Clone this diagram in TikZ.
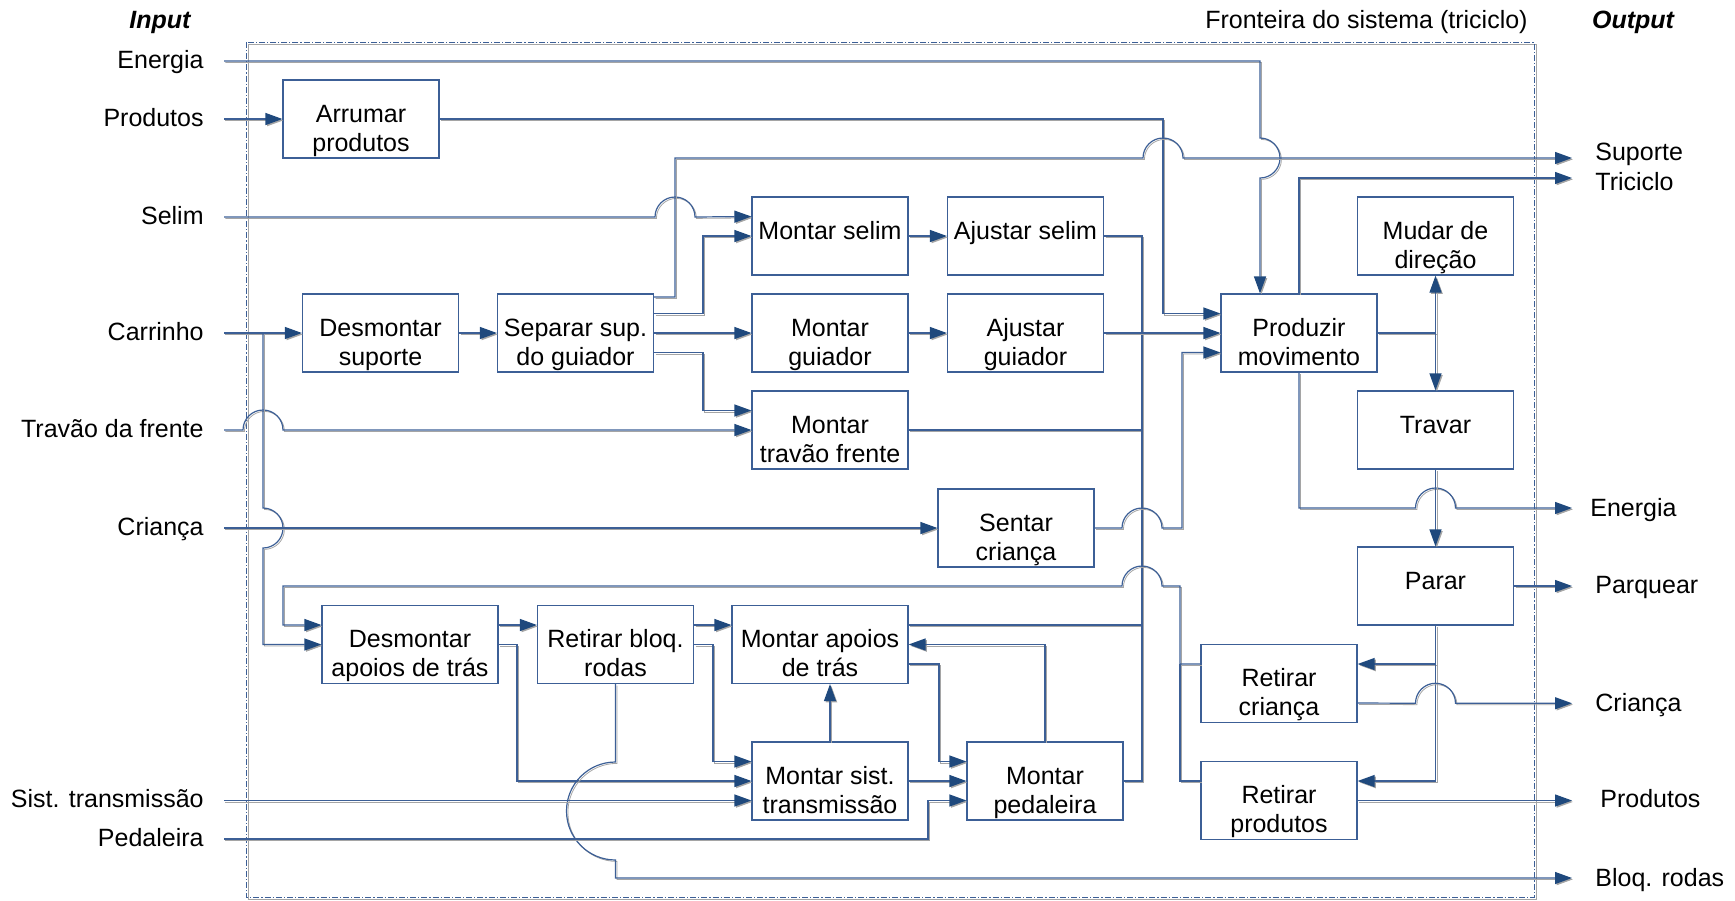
\documentclass[tikz,border=0pt]{standalone}
\usepackage{fontspec}
\setmainfont{Liberation Sans}
\usepackage{xcolor}
\usepackage{tikz}
\usetikzlibrary{arrows.meta}
\definecolor{lineblue}{RGB}{60,95,150}
\definecolor{arrowblue}{RGB}{31,73,125}
\definecolor{shade}{RGB}{165,165,165}

\begin{document}
\begin{tikzpicture}[x=0.5pt,y=-0.5pt,
	font=\fontsize{12.5pt}{14.5pt}\selectfont]

	\tikzstyle{box}=[draw=lineblue,line width=0.6pt,minimum width=78pt,minimum height=39pt,
		inner xsep=0pt,inner ysep=0pt,text height=21pt,text depth=18pt,align=center]
	\tikzstyle{two}=[text height=35.5pt,text depth=3.5pt]
	\tikzstyle{wide}=[minimum width=88pt]
	\tikzstyle{conn}=[draw=lineblue,line width=0.6pt,
		preaction={draw=shade,transform canvas={shift={(0.7pt,-0.7pt)}}}]
	\tikzstyle{arr}=[draw=lineblue,line width=0.6pt,-{Triangle[length=8.5pt,width=6pt,color=arrowblue]},
		preaction={draw=shade,-{Triangle[length=8.5pt,width=6pt]},transform canvas={shift={(0.7pt,-0.7pt)}}}]
	\tikzstyle{inlab}=[anchor=base east,inner sep=0pt]
	\tikzstyle{outlab}=[anchor=base west,inner sep=0pt]
	\tikzstyle{head}=[anchor=base,inner sep=0pt,font=\fontsize{12.5pt}{14.5pt}\selectfont\bfseries\itshape]
	\tikzstyle{bound}=[draw=lineblue,line width=0.5pt,dash pattern=on 3pt off 1pt on 0.6pt off 1pt,
		preaction={draw=shade,transform canvas={shift={(1pt,-1pt)}}}]

	\useasboundingbox (0,0) rectangle (1735,900);

	\draw[bound] (246,42) rectangle (1534,897);

	\node[head] (inhead) at (160,28) {Input};
	\node[head] (outhead) at (1633,28) {Output};
	\node[anchor=base east,inner sep=0pt] (fronteira) at (1528,28) {Fronteira do sistema (triciclo)};

	\node[inlab] (l-energia) at (204,68) {Energia};
	\node[inlab] (l-produtos) at (204,126) {Produtos};
	\node[inlab] (l-selim) at (204,224) {Selim};
	\node[inlab] (l-carrinho) at (204,340) {Carrinho};
	\node[inlab] (l-travao) at (204,437) {Travão da frente};
	\node[inlab] (l-crianca) at (204,535) {Criança};
	\node[inlab] (l-sist) at (204,807) {Sist. transmissão};
	\node[inlab] (l-pedaleira) at (204,846) {Pedaleira};

	\coordinate (i-energia) at (224,61);
	\coordinate (i-produtos) at (224,119);
	\coordinate (i-selim) at (224,217);
	\coordinate (i-carrinho) at (224,333);
	\coordinate (i-travao) at (224,430);
	\coordinate (i-crianca) at (224,528);
	\coordinate (i-sist) at (224,800.5);
	\coordinate (i-pedaleira) at (224,839);

	\node[outlab] (r-suporte) at (1595,160) {Suporte};
	\node[outlab] (r-triciclo) at (1595,190) {Triciclo};
	\node[outlab] (r-energia) at (1590,516) {Energia};
	\node[outlab] (r-parquear) at (1595,593) {Parquear};
	\node[outlab] (r-crianca) at (1595,711) {Criança};
	\node[outlab] (r-produtos) at (1600,807) {Produtos};
	\node[outlab] (r-bloq) at (1595,886) {Bloq. rodas};

	\coordinate (o-suporte) at (1572,158);
	\coordinate (o-triciclo) at (1572,178);
	\coordinate (o-energia) at (1572,508);
	\coordinate (o-parquear) at (1572,586);
	\coordinate (o-crianca) at (1572,703.25);
	\coordinate (o-produtos) at (1572,800.5);
	\coordinate (o-bloq) at (1572,878);

	\node[box,two] (arrumar) at (361,119) {Arrumar\\produtos};
	\node[box,two] (dsup) at (380.5,333) {Desmontar\\suporte};
	\node[box,two] (separar) at (575.5,333) {Separar sup.\\do guiador};
	\node[box] (mselim) at (830,236) {Montar selim};
	\node[box] (aselim) at (1025.5,236) {Ajustar selim};
	\node[box,two] (mguiador) at (830,333) {Montar\\guiador};
	\node[box,two] (aguiador) at (1025.5,333) {Ajustar\\guiador};
	\node[box,two] (mtravao) at (830,430) {Montar\\travão frente};
	\node[box,two] (sentar) at (1016,528) {Sentar\\criança};
	\node[box,two] (produzir) at (1299,333) {Produzir\\movimento};
	\node[box,two] (mudar) at (1435.5,236) {Mudar de\\direção};
	\node[box] (travar) at (1435.5,430) {Travar};
	\node[box] (parar) at (1435.5,586) {Parar};
	\node[box,two] (rcrianca) at (1279,683.5) {Retirar\\criança};
	\node[box,two] (rprodutos) at (1279,800.5) {Retirar\\produtos};
	\node[box,two,wide] (dapoios) at (410,644.5) {Desmontar\\apoios de trás};
	\node[box,two] (rbloq) at (615.5,644.5) {Retirar bloq.\\rodas};
	\node[box,two,wide] (mapoios) at (820,644.5) {Montar apoios\\de trás};
	\node[box,two] (msist) at (830,781) {Montar sist.\\transmissão};
	\node[box,two] (mpedal) at (1045,781) {Montar\\pedaleira};

	\draw[arr] (i-energia) -- (1260,61) -- (1260,138) arc[start angle=90,end angle=-90,radius=10pt]
		-- ([xshift=-19.5pt]produzir.north);
	\draw[arr] (i-produtos) -- (arrumar.west);
	\draw[arr] (arrumar.east) -- (1163,119) |- ([yshift=9.75pt]produzir.west);
	\draw[arr] (i-selim) -- (655,217) arc[start angle=180,end angle=0,radius=10pt]
		-- ([yshift=9.75pt]mselim.west);
	\draw[arr] ([yshift=18pt]separar.east) -| (675,158) -- (1143,158)
		arc[start angle=180,end angle=0,radius=10pt] -- (o-suporte);
	\draw[arr] ([yshift=9.75pt]separar.east) -| (703,236) -- (mselim.west);
	\draw[arr] (separar.east) -- (mguiador.west);
	\draw[arr] ([yshift=-9.75pt]separar.east) -| (703,410.5) -- ([yshift=9.75pt]mtravao.west);
	\draw[arr] (i-travao) -- (243,430) arc[start angle=180,end angle=0,radius=10pt] -- (mtravao.west);
	\draw[arr] (i-carrinho) -- (dsup.west);
	\draw[arr] (i-carrinho) -- (263,333) -- (263,508) arc[start angle=90,end angle=-90,radius=10pt]
		|- (dapoios.west);
	\draw[arr] (dsup.east) -- (separar.west);
	\draw[arr] (mselim.east) -- (aselim.west);
	\draw[arr] (mguiador.east) -- (aguiador.west);
	\draw[arr] (i-crianca) -- (sentar.west);

	\draw[conn] (aselim.east) -| (1142,333);
	\draw[conn] (mtravao.east) -| (1142,333);
	\draw[conn] ([yshift=9.75pt]mapoios.east) -| (1142,333);
	\draw[conn] (mpedal.east) -| (1142,333);
	\draw[arr] (aguiador.east) -- (produzir.west);
	\draw[arr] (sentar.east) -- (1122,528) arc[start angle=180,end angle=0,radius=10pt]
		-- (1182,528) |- ([yshift=-9.75pt]produzir.west);

	\draw[arr] (produzir.north) |- (o-triciclo);
	\draw[arr] (produzir.east) -| (mudar.south);
	\draw[arr] (produzir.east) -| (travar.north);
	\draw[arr] (produzir.south) |- (1415.5,508) arc[start angle=180,end angle=0,radius=10pt]
		-- (o-energia);
	\draw[arr] (travar.south) -- (parar.north);
	\draw[arr] (parar.east) -- (o-parquear);
	\draw[arr] (parar.south) |- ([yshift=9.75pt]rcrianca.east);
	\draw[arr] (parar.south) |- ([yshift=9.75pt]rprodutos.east);
	\draw[arr] ([yshift=-9.75pt]rcrianca.east) -- (1415.5,703.25)
		arc[start angle=180,end angle=0,radius=10pt] -- (o-crianca);
	\draw[arr] (rprodutos.east) -- (o-produtos);

	\draw[arr] ([yshift=9.75pt]rcrianca.west) -| (1180,586) -- (1162,586)
		arc[start angle=0,end angle=180,radius=10pt] -- (283,586) |- ([yshift=9.75pt]dapoios.west);
	\draw[conn] ([yshift=9.75pt]rprodutos.west) -| (1180,664);

	\draw[arr] ([yshift=9.75pt]dapoios.east) -- ([yshift=9.75pt]rbloq.west);
	\draw[arr] (dapoios.east) -| (517,781) -- (msist.west);
	\draw[arr] ([yshift=9.75pt]rbloq.east) -- ([yshift=9.75pt]mapoios.west);
	\draw[arr] (rbloq.east) -| (713,761.5) -- ([yshift=9.75pt]msist.west);
	\draw[arr] (rbloq.south) -- (615.5,762) arc[start angle=90,end angle=270,radius=24.5pt] |- (o-bloq);
	\draw[arr] (i-sist) -- ([yshift=-9.75pt]msist.west);
	\draw[arr] (i-pedaleira) -| (928,800.5) -- ([yshift=-9.75pt]mpedal.west);
	\draw[arr] (msist.north) -- (msist.north |- mapoios.south);
	\draw[arr] (msist.east) -- (mpedal.west);
	\draw[arr] ([yshift=-9.75pt]mapoios.east) -| (939,761.5) -- ([yshift=9.75pt]mpedal.west);
	\draw[arr] (mpedal.north) |- (mapoios.east);

\end{tikzpicture}
\end{document}
